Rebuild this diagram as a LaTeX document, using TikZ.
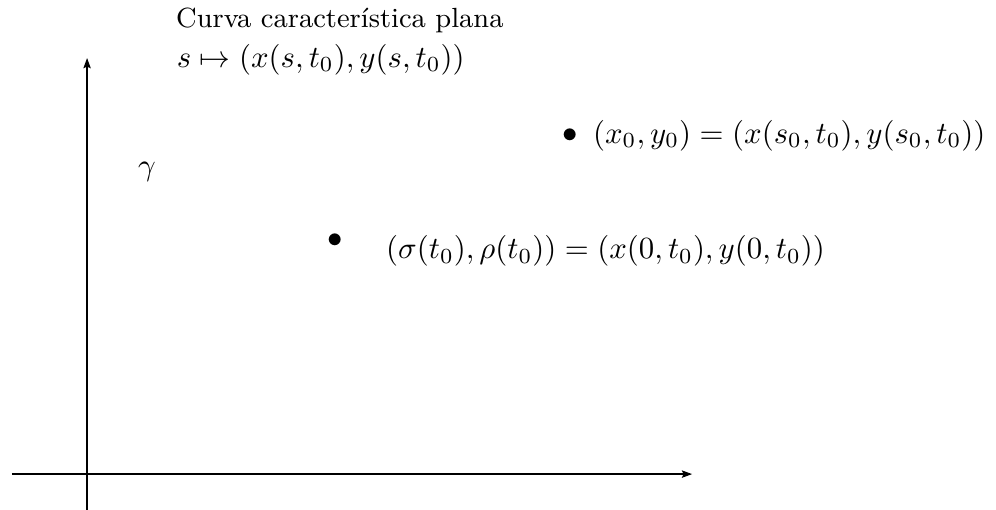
\documentclass[tikz,border=0pt]{standalone}
\usepackage{amsmath,amssymb}
\usepackage{tikz}
\usetikzlibrary{arrows.meta,positioning}

\begin{document}
\begin{tikzpicture}[>={Stealth[length=1.8mm,width=1.3mm,inset=0.3mm]},
  line width=0.6pt,
  big/.style={scale=1.54, inner sep=0pt},
  pt/.style={big},
  lbl/.style={big, anchor=west}]
\useasboundingbox (-1.53,-0.63) rectangle (15.97,8.33);
% ejes
\coordinate (xs) at (-1.32,0); \coordinate (xe) at (10.63,0);
\coordinate (ys) at (0,-0.63); \coordinate (ye) at (0,7.31);
\draw[->] (xs) -- (xe);
\draw[->] (ys) -- (ye);
% curva caracteristica
\node[big, anchor=base west, font=\small] (curva) at (1.55,7.84) {Curva caracter\'istica plana};
\node[big, anchor=base west] (param) at (1.56,7.15) {$s\mapsto(x(s,t_0),y(s,t_0))$};
\node[big] (gam) at (1.05,5.31) {$\gamma$};
% puntos
\node[pt] (p0) at (4.36,4.11) {$\bullet$};
\node[lbl] (lp0) at (5.24,3.92) {$(\sigma(t_0),\rho(t_0))=(x(0,t_0),y(0,t_0))$};
\node[pt] (p1) at (8.49,5.94) {$\bullet$};
\node[lbl] (lp1) at (8.875,5.95) {$(x_0,y_0)=(x(s_0,t_0),y(s_0,t_0))$};
\end{tikzpicture}
\end{document}
